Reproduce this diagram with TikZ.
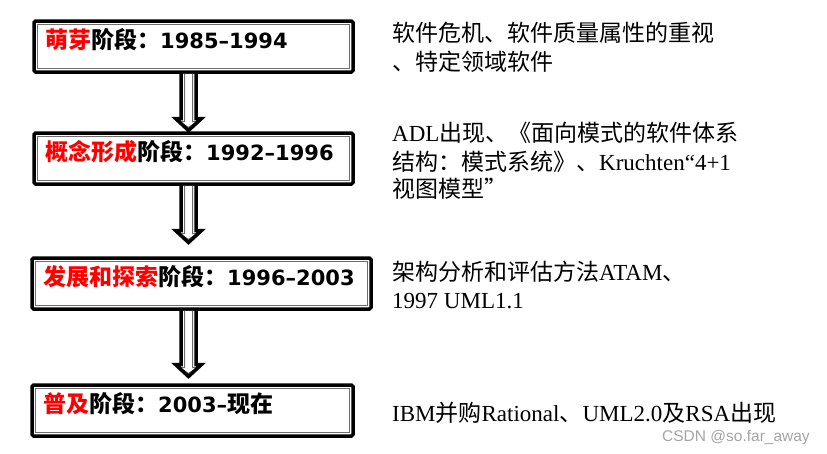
\documentclass[tikz,border=0pt]{standalone}
\usepackage{fontspec}
\setmainfont{Liberation Serif}
\newfontfamily\cjk{Noto Sans CJK SC}
\newfontfamily\digitfont{DejaVu Sans}
\newfontfamily\wmfont{Liberation Sans}
\usetikzlibrary{calc}
\definecolor{wm}{RGB}{165,165,165}
\definecolor{innergray}{RGB}{110,110,110}
\newcommand\zh[1]{{\cjk #1}}
\newcommand\yr[1]{{\digitfont\bfseries\fontsize{21}{28}\selectfont #1}}
\tikzset{
  stagebox/.style={draw=black, line width=3.5pt, fill=white, rounded corners=1.5pt,
    inner sep=0pt, outer sep=0pt, anchor=north west},
  boxinner/.style={draw=innergray, line width=1pt},
  stagetext/.style={anchor=base west, inner sep=0pt, font=\cjk\bfseries\fontsize{23}{28}\selectfont},
  desc/.style={anchor=base west, inner sep=0pt, font=\fontsize{23}{28}\selectfont},
  arrowgray/.style={draw=innergray, line width=1pt, line join=miter},
  arrowblack/.style={draw=black, line width=3.5pt, line join=miter},
}
\newcommand\stagearrow[3]{%
  \coordinate (#1#2t) at (ax |- #1.south);
  \coordinate (#1#2b) at ($(ax |- #2.north)+(0,-#3)$);
  \fill[white] ($(#1#2t)+(-7.5,1.75)$) -- ($(#1#2b)+(-7.5,-13)$) -- ($(#1#2b)+(-13,-13)$)
    -- ($(#1#2b)+(0,-1)$) -- ($(#1#2b)+(13,-13)$) -- ($(#1#2b)+(7.5,-13)$)
    -- ($(#1#2t)+(7.5,1.75)$) -- cycle;
  \draw[arrowgray] ($(#1#2t)+(-4,1.75)$) -- ($(#1#2b)+(-4,-10)$) -- ($(#1#2b)+(-9,-10)$)
    -- ($(#1#2b)+(0,-4)$) -- ($(#1#2b)+(9,-10)$) -- ($(#1#2b)+(4,-10)$)
    -- ($(#1#2t)+(4,1.75)$);
  \draw[arrowblack] ($(#1#2t)+(-7.5,0)$) -- ($(#1#2b)+(-7.5,-13)$) -- ($(#1#2b)+(-13,-13)$)
    -- ($(#1#2b)+(0,-1)$) -- ($(#1#2b)+(13,-13)$) -- ($(#1#2b)+(7.5,-13)$)
    -- ($(#1#2t)+(7.5,0)$);
}
\newcommand\boxinnerline[1]{%
  \draw[boxinner] ($(#1.north west)+(3.2,3.2)$) rectangle ($(#1.south east)+(-3.2,-3.2)$);
}
\begin{document}
\begin{tikzpicture}[x=1pt,y=-1pt]
\useasboundingbox[fill=white] (0,0) rectangle (827,453);
\coordinate (ax) at (188.5,0);

% stage boxes
\node[stagebox, minimum width=319pt, minimum height=51pt] (b1) at (34,21) {};
\node[stagebox, minimum width=319pt, minimum height=51pt] (b2) at (34,133) {};
\node[stagebox, minimum width=339pt, minimum height=51pt] (b3) at (32,258) {};
\node[stagebox, minimum width=321pt, minimum height=51pt] (b4) at (32,385) {};
\boxinnerline{b1}
\boxinnerline{b2}
\boxinnerline{b3}
\boxinnerline{b4}

% arrows
\stagearrow{b1}{b2}{1.5}
\stagearrow{b2}{b3}{14.5}
\stagearrow{b3}{b4}{7.5}

% stage texts
\node[stagetext] (s1) at (45,48.7) {\textcolor{red}{萌芽}阶段：\yr{1985–1994}};
\node[stagetext] (s2) at (45,160.7) {\textcolor{red}{概念形成}阶段：\yr{1992–1996}};
\node[stagetext] (s3) at (43,285.7) {\textcolor{red}{发展和探索}阶段：\yr{1996–2003}};
\node[stagetext] (s4) at (43,412.7) {\textcolor{red}{普及}阶段：\yr{2003–}现在};

% descriptions
\node[desc] (t1a) at (392,41.5) {\zh{软件危机、软件质量属性的重视}};
\node[desc] (t1b) at (392,70) {\zh{、特定领域软件}};
\node[desc] (t2a) at (392,141.5) {ADL\zh{出现、《面向模式的软件体系}};
\node[desc] (t2b) at (392,170) {\zh{结构：模式系统》、}Kruchten“4+1};
\node[desc] (t2c) at (392,197) {\zh{视图模型”}};
\node[desc] (t3a) at (392,280.5) {\zh{架构分析和评估方法}ATAM\zh{、}};
\node[desc] (t3b) at (392,308.5) {1997 UML1.1};
\node[desc] (t4a) at (392,421.5) {IBM\zh{并购}Rational\zh{、}UML2.0\zh{及}RSA\zh{出现}};

% watermark
\node[anchor=base west, inner sep=0pt, text=wm, font=\wmfont\fontsize{15.5}{18}\selectfont] (wm) at (662,441) {CSDN @so.far\_away};
\end{tikzpicture}
\end{document}
